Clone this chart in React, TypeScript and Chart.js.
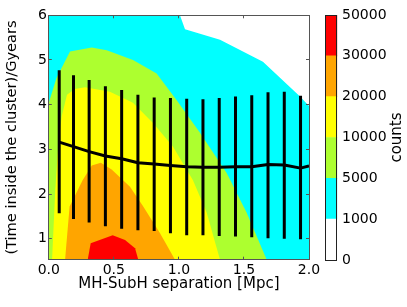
import React, { useEffect, useRef } from 'react';
import { Chart, registerables } from 'chart.js';

Chart.register(...registerables);

// ---- axes ----
const X_MIN = 0;
const X_MAX = 2;
const Y_MIN = 0.53;
const Y_MAX = 6;
const xTicks = [0, 0.5, 1, 1.5, 2];
const xTickLabels = ['0.0', '0.5', '1.0', '1.5', '2.0'];
const yTicks = [1, 2, 3, 4, 5, 6];
const yTickLabels = ['1', '2', '3', '4', '5', '6'];
const xTitle = 'MH-SubH separation [Mpc]';
const yTitle = '(Time inside the cluster)/Gyears';

// ---- filled contour levels (counts) ----
const levelLabels = ['0', '1000', '5000', '10000', '20000', '30000', '50000'];
const levelColors = ['#ffffff', '#00ffff', '#adff2f', '#ffff00', '#ffa500', '#ff0000'];
const colorbarTitle = 'counts';

// region boundaries [x, y]
const cyanRegion = [[0, 6], [2, 6]];
const whiteBoundary = [[1.008, 6], [1.047, 5.69], [1.316, 5.45], [1.646, 4.96], [1.931, 4.18], [2.0, 3.97]];
const greenBoundary = [[0, 0.53], [0, 4.04], [0.06, 4.6], [0.163, 5.19], [0.33, 5.28], [0.445, 5.22], [0.647, 5.0], [0.829, 4.7], [0.983, 4.1], [1.162, 3.37], [1.367, 2.47], [1.521, 1.58], [1.675, 0.53]];
const yellowBoundary = [[0.025, 0.53], [0.05, 2.1], [0.075, 3.2], [0.1, 3.75], [0.14, 4.22], [0.2, 4.35], [0.278, 4.39], [0.47, 4.29], [0.647, 4.04], [0.801, 3.59], [0.955, 3.06], [1.108, 2.31], [1.214, 1.58], [1.316, 0.53]];
const orangeBoundary = [[0.125, 0.53], [0.16, 1.72], [0.26, 2.31], [0.33, 2.64], [0.4, 2.7], [0.483, 2.55], [0.624, 2.16], [0.726, 1.72], [0.855, 1.12], [0.97, 0.53]];
const redBoundary = [[0.299, 0.53], [0.322, 0.9], [0.491, 1.08], [0.586, 0.97], [0.663, 0.785], [0.688, 0.53]];

// ---- mean time with spread ----
const binCenters = [0.08, 0.19, 0.31, 0.435, 0.56, 0.685, 0.81, 0.935, 1.06, 1.185, 1.31, 1.435, 1.56, 1.685, 1.81, 1.935];
const errHigh = [4.77, 4.66, 4.55, 4.41, 4.33, 4.22, 4.16, 4.15, 4.13, 4.12, 4.15, 4.18, 4.21, 4.28, 4.29, 4.2];
const errLow = [1.57, 1.44, 1.36, 1.28, 1.22, 1.19, 1.17, 1.12, 1.08, 1.08, 1.06, 1.05, 1.03, 1.01, 1.0, 0.99];
const meanX = [0.08, 0.19, 0.31, 0.435, 0.56, 0.685, 0.81, 0.935, 1.06, 1.185, 1.31, 1.435, 1.56, 1.685, 1.81, 1.935, 2.0];
const meanY = [3.16, 3.06, 2.95, 2.85, 2.79, 2.7, 2.67, 2.64, 2.61, 2.6, 2.6, 2.61, 2.61, 2.66, 2.65, 2.58, 2.63];

const FONT = 'DejaVu Sans';
const tickFont = { family: FONT, size: 14 };
const xTitleFont = { family: FONT, size: 15 };
const yTitleFont = { family: FONT, size: 14.6 };

function area(pts: number[][], color: string, fill: string, order: number) {
  return {
    type: 'line',
    data: pts.map(([x, y]) => ({ x, y })),
    fill,
    backgroundColor: color,
    borderColor: 'rgba(0,0,0,0)',
    borderWidth: 0,
    pointRadius: 0,
    tension: 0,
    order,
  };
}

export default function App() {
  const mainRef = useRef<HTMLCanvasElement | null>(null);
  const cbRef = useRef<HTMLCanvasElement | null>(null);

  useEffect(() => {
    const grid = { drawOnChartArea: false, drawTicks: true, tickLength: -3, tickColor: '#555', z: 1 };
    const border = { display: true, color: '#555', width: 1, z: 1 };
    const setX = (s: any) => { s.ticks = xTicks.map((v) => ({ value: v })); };
    const setY = (s: any) => { s.ticks = yTicks.map((v) => ({ value: v })); };

    const errorBarPoints = binCenters.flatMap((x, i) => [
      { x, y: errLow[i] },
      { x, y: errHigh[i] },
      { x, y: null },
    ]);

    const main = new Chart(mainRef.current as HTMLCanvasElement, {
      type: 'line',
      data: {
        datasets: [
          area(cyanRegion, levelColors[1], 'start', 20),
          area(whiteBoundary, levelColors[0], 'end', 19),
          area(greenBoundary, levelColors[2], 'start', 18),
          area(yellowBoundary, levelColors[3], 'start', 17),
          area(orangeBoundary, levelColors[4], 'start', 16),
          area(redBoundary, levelColors[5], 'start', 15),
          {
            type: 'line',
            data: errorBarPoints,
            borderColor: '#000',
            borderWidth: 3,
            borderCapStyle: 'butt',
            pointRadius: 0,
            spanGaps: false,
            fill: false,
            order: 2,
          },
          {
            type: 'line',
            data: meanX.map((x, i) => ({ x, y: meanY[i] })),
            borderColor: '#000',
            borderWidth: 3,
            borderJoinStyle: 'round',
            pointRadius: 0,
            tension: 0,
            fill: false,
            order: 1,
          },
        ] as any,
      },
      options: {
        animation: false,
        responsive: true,
        maintainAspectRatio: false,
        events: [],
        layout: { padding: 0 },
        plugins: { legend: { display: false }, tooltip: { enabled: false } },
        scales: {
          x: {
            type: 'linear', position: 'bottom', min: X_MIN, max: X_MAX,
            afterBuildTicks: setX,
            afterFit: (s: any) => { s.height = 47.3; },
            ticks: { callback: (_v: any, i: number) => xTickLabels[i], color: '#000', font: tickFont, padding: 5, maxRotation: 0, autoSkip: false },
            grid, border,
            title: { display: true, text: xTitle, color: '#000', font: xTitleFont, padding: { top: 0, bottom: 13.5 } },
          },
          x2: {
            type: 'linear', position: 'top', min: X_MIN, max: X_MAX,
            afterBuildTicks: setX,
            afterFit: (s: any) => { s.height = 15.3; },
            ticks: { display: false },
            grid, border,
          },
          y: {
            type: 'linear', position: 'left', min: Y_MIN, max: Y_MAX,
            afterBuildTicks: setY,
            afterFit: (s: any) => { s.width = 48.8; },
            ticks: { callback: (_v: any, i: number) => yTickLabels[i], color: '#000', font: tickFont, padding: 5, autoSkip: false },
            grid, border,
            title: { display: true, text: yTitle, color: '#000', font: yTitleFont, padding: { top: 3.2, bottom: 0 } },
          },
          y2: {
            type: 'linear', position: 'right', min: Y_MIN, max: Y_MAX,
            afterBuildTicks: setY,
            afterFit: (s: any) => { s.width = 21; },
            ticks: { display: false },
            grid, border,
          },
        } as any,
      },
    });

    const cbDecor = {
      id: 'cbDecor',
      afterDatasetsDraw(chart: any) {
        const { ctx, chartArea: a } = chart;
        ctx.save();
        ctx.strokeStyle = '#222';
        ctx.lineWidth = 1;
        ctx.strokeRect(Math.round(a.left) + 0.5, Math.round(a.top) + 0.5, Math.round(a.right - a.left) - 1, Math.round(a.bottom - a.top));
        ctx.restore();
      },
      afterDraw(chart: any) {
        const { ctx, chartArea: a } = chart;
        ctx.save();
        ctx.translate(chart.width - 10, (a.top + a.bottom) / 2);
        ctx.rotate(-Math.PI / 2);
        ctx.fillStyle = '#000';
        ctx.font = `15px "${FONT}"`;
        ctx.textAlign = 'center';
        ctx.textBaseline = 'middle';
        ctx.fillText(colorbarTitle, 0, 0);
        ctx.restore();
      },
    };

    const cb = new Chart(cbRef.current as HTMLCanvasElement, {
      type: 'bar',
      data: {
        labels: [''],
        datasets: levelColors.map((c, i) => ({
          label: `${levelLabels[i]}-${levelLabels[i + 1]}`,
          data: [1],
          backgroundColor: c,
          borderWidth: 0,
          barPercentage: 1,
          categoryPercentage: 1,
        })),
      },
      options: {
        animation: false,
        responsive: true,
        maintainAspectRatio: false,
        events: [],
        layout: { padding: { left: 5, top: 15, bottom: 47, right: 0 } },
        plugins: { legend: { display: false }, tooltip: { enabled: false } },
        scales: {
          x: { display: false, stacked: true },
          y: {
            position: 'right', stacked: true, min: 0, max: 6,
            afterBuildTicks: (s: any) => { s.ticks = levelLabels.map((_l, i) => ({ value: i })); },
            afterFit: (s: any) => { s.width = 69.7; },
            ticks: { callback: (_v: any, i: number) => levelLabels[i], color: '#000', font: tickFont, padding: 4.7, autoSkip: false },
            grid: { display: false, drawTicks: false },
            border: { display: false },
          },
        } as any,
      },
      plugins: [cbDecor],
    });

    return () => {
      main.destroy();
      cb.destroy();
    };
  }, []);

  return (
    <div style={{ position: 'absolute', left: 0, top: 0, width: 407, height: 307, background: '#fff' }}>
      <div style={{ position: 'absolute', left: 0, top: 0, width: 330, height: 307 }}>
        <canvas ref={mainRef} style={{ display: 'block' }} />
      </div>
      <div style={{ position: 'absolute', left: 320, top: 0, width: 87, height: 307 }}>
        <canvas ref={cbRef} style={{ display: 'block' }} />
      </div>
    </div>
  );
}
